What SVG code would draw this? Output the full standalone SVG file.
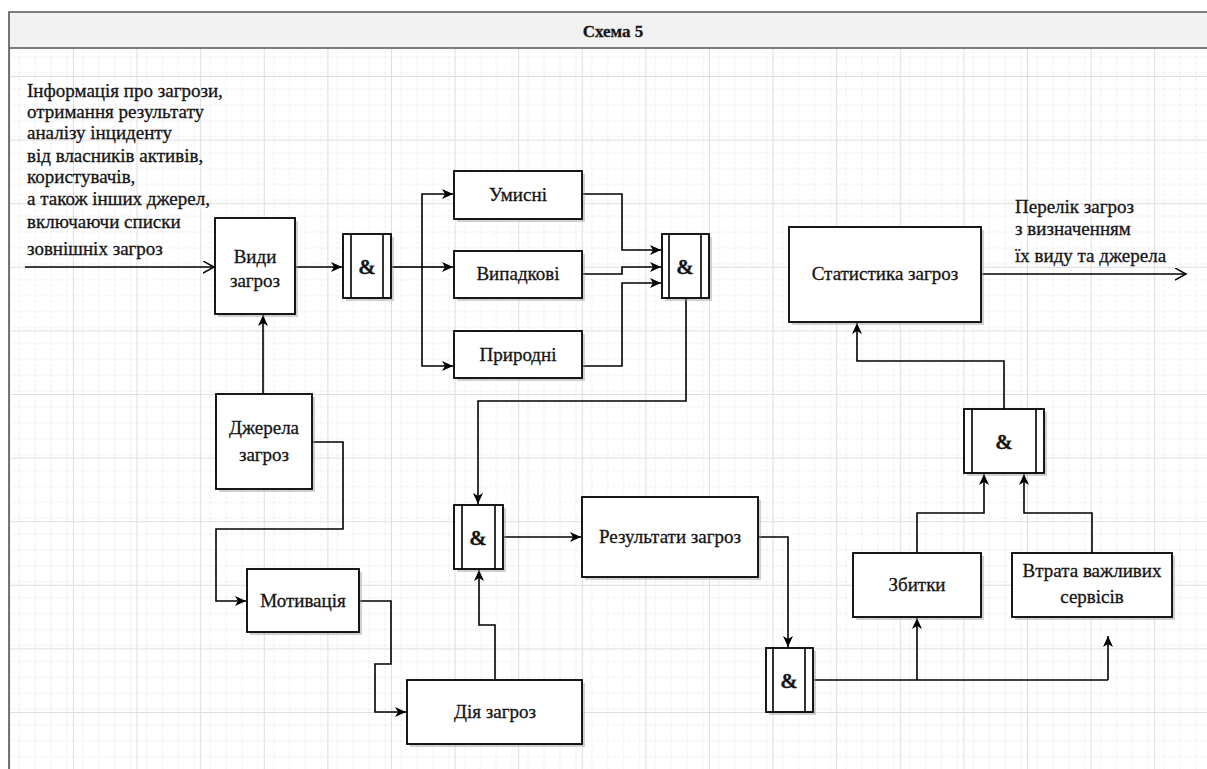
<svg xmlns="http://www.w3.org/2000/svg" width="1207" height="769" viewBox="0 0 1207 769">
  <defs>
    <style>
      .box { fill: #fff; stroke: #000; stroke-width: 1.8; }
      .shadow { fill: #9a9a9a; opacity: 0.45; }
      .bar { stroke: #000; stroke-width: 1.6; }
      text { font-family: "Liberation Serif", "Times New Roman", serif; fill: #151515; stroke: #151515; stroke-width: 0.3; }
      .lbl { font-size: 19px; text-anchor: middle; }
      .amp { font-size: 21px; font-weight: bold; text-anchor: middle; }
      .note { font-size: 19px; }
      .title { font-size: 17px; font-weight: bold; text-anchor: middle; }
      .wire { fill: none; stroke: #000; stroke-width: 1.6; }
      .wire-in { fill: none; stroke: #000; stroke-width: 1.6; marker-end: url(#solid); }
      .wire-open { fill: none; stroke: #000; stroke-width: 1.6; marker-end: url(#open); }
    </style>
    <marker id="solid" markerUnits="userSpaceOnUse" markerWidth="14" markerHeight="12" refX="11" refY="5" orient="auto">
      <path d="M0,0 L11,5 L0,10 L3,5 Z" fill="#000"/>
    </marker>
    <marker id="open" markerUnits="userSpaceOnUse" markerWidth="14" markerHeight="14" refX="11" refY="6" orient="auto">
      <path d="M0,0 L11,6 L0,12" fill="none" stroke="#000" stroke-width="1.5"/>
    </marker>
    <pattern id="minor" x="9.4" y="12.4" width="15.9" height="15.9" patternUnits="userSpaceOnUse">
      <path d="M0,0.5 H15.9 M0.5,0 V15.9" fill="none" stroke="#eeeeee" stroke-width="1" stroke-dasharray="3 2"/>
    </pattern>
    <pattern id="major" x="9.4" y="12.4" width="63.6" height="63.6" patternUnits="userSpaceOnUse">
      <rect width="63.6" height="63.6" fill="url(#minor)"/>
      <path d="M0,0.5 H63.6 M0.5,0 V63.6" fill="none" stroke="#dedede" stroke-width="1"/>
    </pattern>
  </defs>

  <rect width="1207" height="769" fill="#fff"/>

  <!-- swimlane frame with grid -->
  <g id="frame">
    <rect x="9" y="48" width="1200" height="725" fill="url(#major)"/>
    <rect x="9" y="12" width="1200" height="36" fill="#f2f2f2"/>
    <path d="M1209,12 H9 V771 M9,48 H1209" fill="none" stroke="#555" stroke-width="1.6"/>
    <text class="title" x="613" y="37">Схема 5</text>
  </g>

  <!-- free text -->
  <g id="input-note" class="note">
    <text x="27" y="97">Інформація про загрози,</text>
    <text x="27" y="118">отримання результату</text>
    <text x="27" y="139">аналізу інциденту</text>
    <text x="27" y="162">від власників активів,</text>
    <text x="27" y="183">користувачів,</text>
    <text x="27" y="205">а також інших джерел,</text>
    <text x="27" y="228">включаючи списки</text>
    <text x="27" y="255">зовнішніх загроз</text>
  </g>
  <g id="output-note" class="note">
    <text x="1015" y="213">Перелік загроз</text>
    <text x="1015" y="235">з визначенням</text>
    <text x="1015" y="262">їх виду та джерела</text>
  </g>

  <!-- connectors -->
  <g id="connectors">
    <path class="wire-open" d="M25,267 H214"/>
    <path class="wire-in" d="M295,267 H342"/>
    <path class="wire" d="M391,267 H422"/>
    <path class="wire-in" d="M422,267 V194 H453"/>
    <path class="wire-in" d="M422,267 H453"/>
    <path class="wire-in" d="M422,267 V366 H453"/>
    <path class="wire-in" d="M582,194 H622 V250 H661"/>
    <path class="wire-in" d="M582,274 H622 V267 H661"/>
    <path class="wire-in" d="M582,366 H622 V283 H661"/>
    <path class="wire-in" d="M686,298 V401 H478 V504"/>
    <path class="wire-in" d="M503,537 H581"/>
    <path class="wire-in" d="M758,537 H788 V647"/>
    <path class="wire-in" d="M263,394 V315"/>
    <path class="wire-in" d="M312,442 H343 V529 H216 V601 H246"/>
    <path class="wire-in" d="M359,601 H391 V664 H375 V712 H406"/>
    <path class="wire-in" d="M495,680 V625 H479 V570"/>
    <path class="wire" d="M813,680 H1108"/>
    <path class="wire-in" d="M917,680 V618"/>
    <path class="wire-in" d="M1108,680 V636"/>
    <path class="wire-in" d="M917,553 V513 H984 V474"/>
    <path class="wire-in" d="M1092,553 V513 H1024 V474"/>
    <path class="wire-in" d="M1004,409 V361 H857 V323"/>
    <path class="wire-open" d="M981,274 H1186"/>
  </g>

  <!-- nodes -->
  <g id="vydy-zagroz">
    <rect class="shadow" x="218" y="221" width="80" height="96"/>
    <rect class="box" x="215" y="218" width="80" height="96"/>
    <text class="lbl" x="255" y="263">Види</text>
    <text class="lbl" x="255" y="287">загроз</text>
  </g>

  <g id="and-1">
    <rect class="shadow" x="346" y="237" width="48" height="64"/>
    <rect class="box" x="343" y="234" width="48" height="64"/>
    <path class="bar" d="M351,234 V298 M383,234 V298"/>
    <text class="amp" x="367" y="274">&amp;</text>
  </g>

  <g id="umysni">
    <rect class="shadow" x="457" y="174" width="128" height="48"/>
    <rect class="box" x="454" y="171" width="128" height="48"/>
    <text class="lbl" x="518" y="201">Умисні</text>
  </g>

  <g id="vypadkovi">
    <rect class="shadow" x="457" y="254" width="128" height="47"/>
    <rect class="box" x="454" y="251" width="128" height="47"/>
    <text class="lbl" x="518" y="280">Випадкові</text>
  </g>

  <g id="pryrodni">
    <rect class="shadow" x="457" y="334" width="128" height="47"/>
    <rect class="box" x="454" y="331" width="128" height="47"/>
    <text class="lbl" x="518" y="361">Природні</text>
  </g>

  <g id="and-2">
    <rect class="shadow" x="665" y="237" width="47" height="64"/>
    <rect class="box" x="662" y="234" width="47" height="64"/>
    <path class="bar" d="M669,234 V298 M701,234 V298"/>
    <text class="amp" x="685" y="274">&amp;</text>
  </g>

  <g id="dzherela-zagroz">
    <rect class="shadow" x="219" y="397" width="96" height="95"/>
    <rect class="box" x="216" y="394" width="96" height="95"/>
    <text class="lbl" x="264" y="434">Джерела</text>
    <text class="lbl" x="264" y="461">загроз</text>
  </g>

  <g id="motyvatsiia">
    <rect class="shadow" x="250" y="572" width="112" height="63"/>
    <rect class="box" x="247" y="569" width="112" height="63"/>
    <text class="lbl" x="303" y="607">Мотивація</text>
  </g>

  <g id="and-3">
    <rect class="shadow" x="457" y="508" width="49" height="64"/>
    <rect class="box" x="454" y="505" width="49" height="64"/>
    <path class="bar" d="M462,505 V569 M495,505 V569"/>
    <text class="amp" x="478" y="545">&amp;</text>
  </g>

  <g id="diia-zagroz">
    <rect class="shadow" x="410" y="683" width="175" height="64"/>
    <rect class="box" x="407" y="680" width="175" height="64"/>
    <text class="lbl" x="495" y="718">Дія загроз</text>
  </g>

  <g id="rezultaty-zagroz">
    <rect class="shadow" x="585" y="500" width="176" height="80"/>
    <rect class="box" x="582" y="497" width="176" height="80"/>
    <text class="lbl" x="670" y="543">Результати загроз</text>
  </g>

  <g id="and-4">
    <rect class="shadow" x="769" y="651" width="47" height="64"/>
    <rect class="box" x="766" y="648" width="47" height="64"/>
    <path class="bar" d="M773,648 V712 M805,648 V712"/>
    <text class="amp" x="789" y="688">&amp;</text>
  </g>

  <g id="zbytky">
    <rect class="shadow" x="856" y="556" width="128" height="64"/>
    <rect class="box" x="853" y="553" width="128" height="64"/>
    <text class="lbl" x="917" y="591">Збитки</text>
  </g>

  <g id="vtrata-servisiv">
    <rect class="shadow" x="1015" y="556" width="160" height="64"/>
    <rect class="box" x="1012" y="553" width="160" height="64"/>
    <text class="lbl" x="1092" y="577">Втрата важливих</text>
    <text class="lbl" x="1092" y="603">сервісів</text>
  </g>

  <g id="and-5">
    <rect class="shadow" x="967" y="412" width="80" height="64"/>
    <rect class="box" x="964" y="409" width="80" height="64"/>
    <path class="bar" d="M972,409 V473 M1036,409 V473"/>
    <text class="amp" x="1004" y="449">&amp;</text>
  </g>

  <g id="statystyka-zagroz">
    <rect class="shadow" x="792" y="230" width="192" height="95"/>
    <rect class="box" x="789" y="227" width="192" height="95"/>
    <text class="lbl" x="885" y="280">Статистика загроз</text>
  </g>
</svg>
